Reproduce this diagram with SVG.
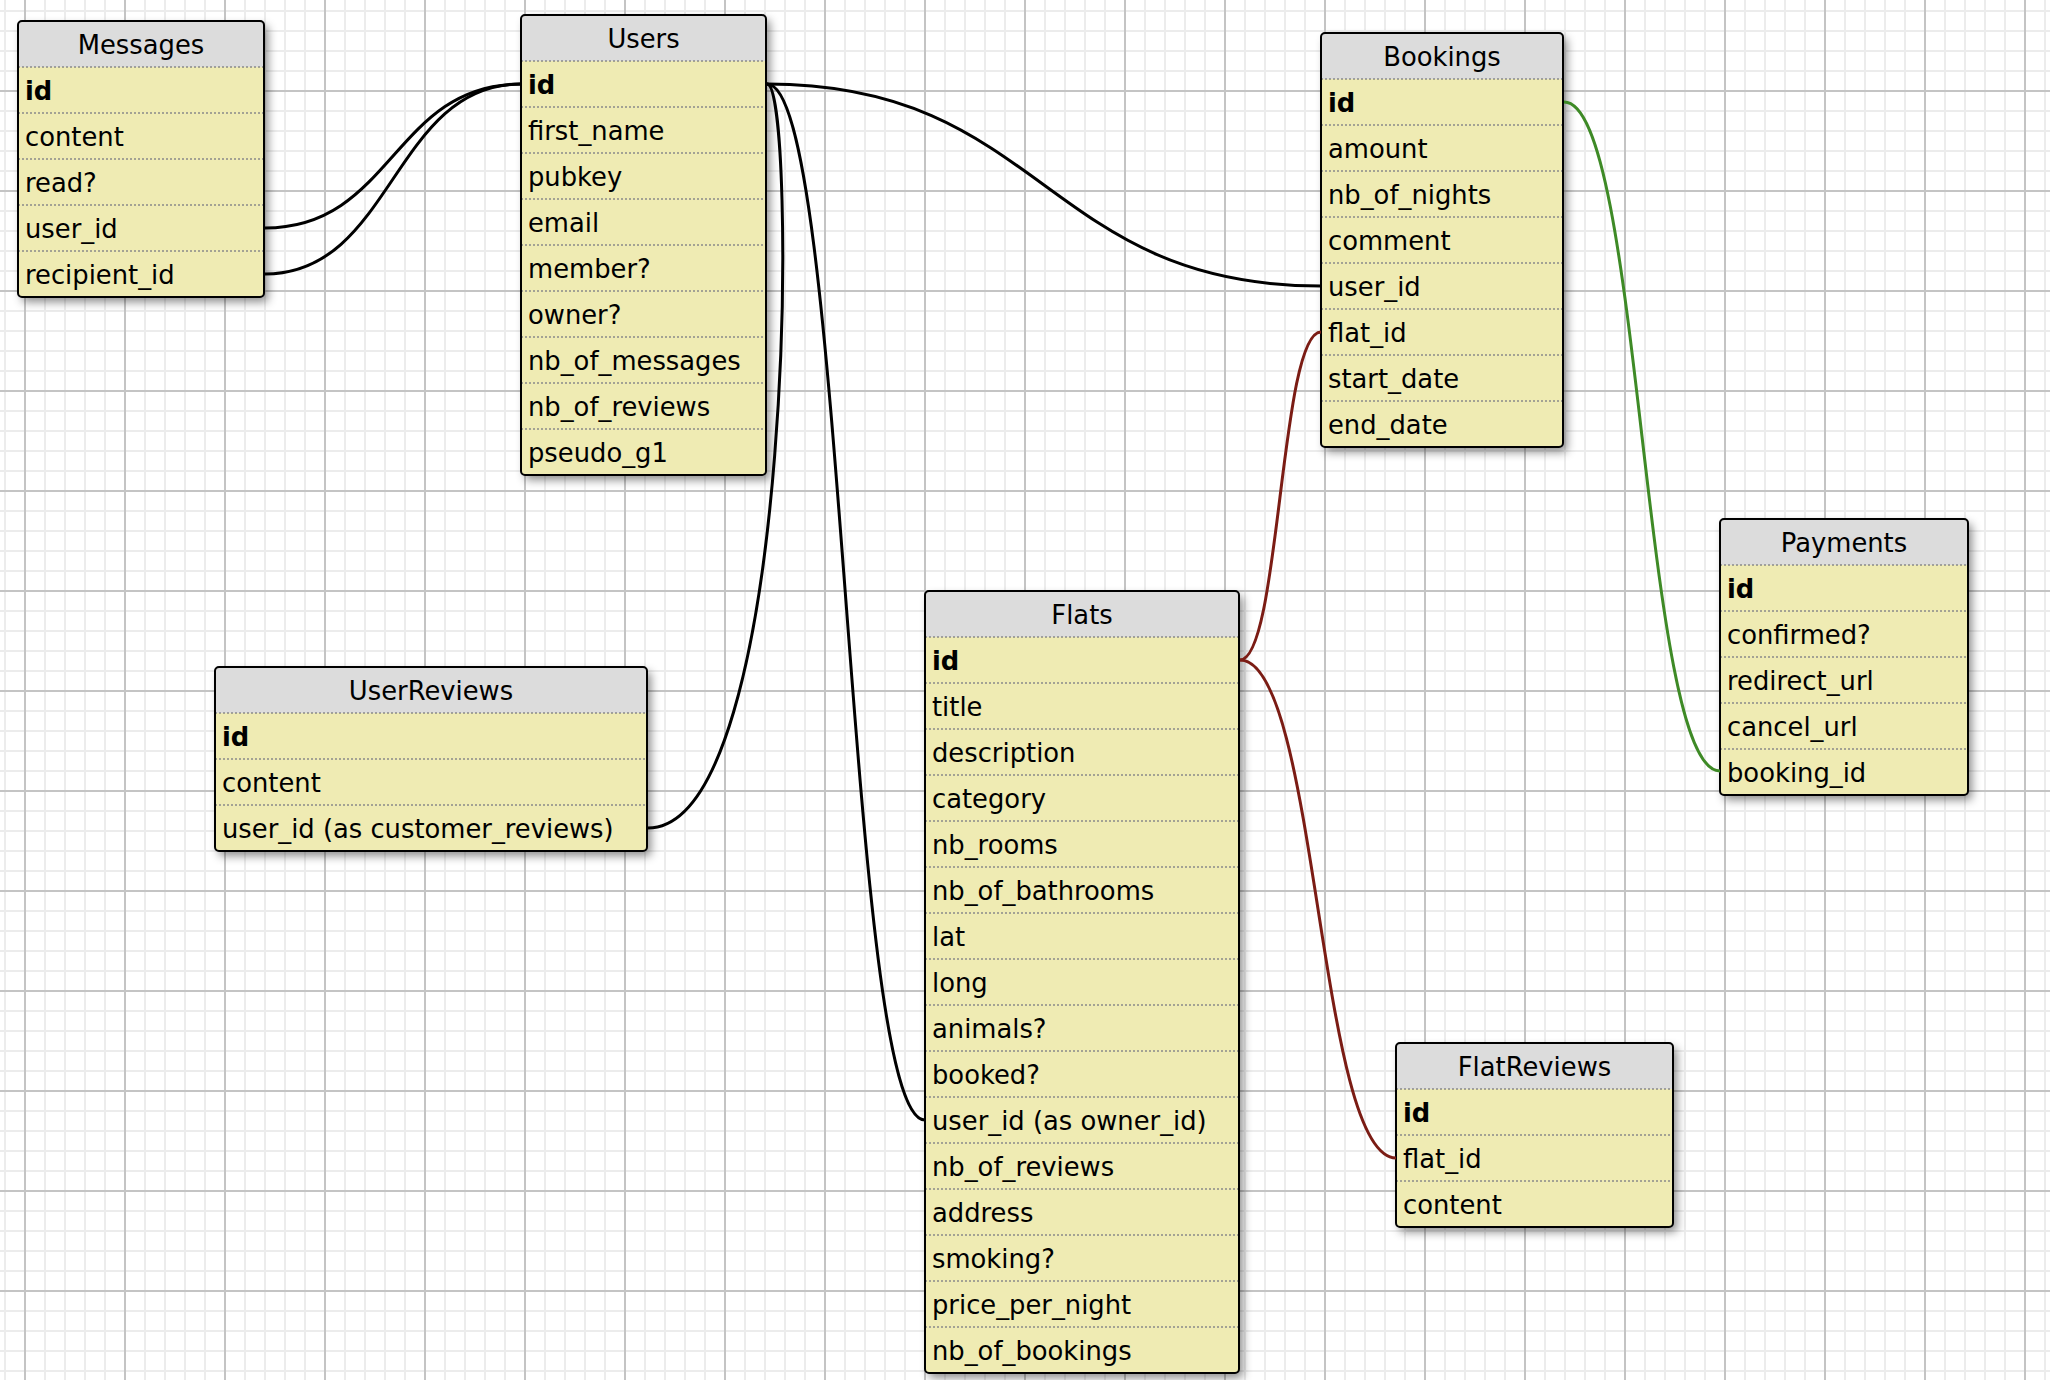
<svg xmlns="http://www.w3.org/2000/svg" width="2050" height="1380" viewBox="0 0 2050 1380">
<style>
.hd{fill:#dcdcdc}
.bd{fill:#efebb3}
.bx{fill:none;stroke:#000;stroke-width:2}
.sp{stroke:#8a8a8a;stroke-width:1.5;stroke-dasharray:2 2}
.t{font-family:"DejaVu Sans",Verdana,sans-serif;font-size:25.8px;fill:#000}
.c{text-anchor:middle}
.b{font-weight:bold}
.k{fill:none;stroke:#000;stroke-width:3}
.r{fill:none;stroke:#7b1c14;stroke-width:3}
.g{fill:none;stroke:#3e8a26;stroke-width:3}
</style>
<defs>
<pattern id="grid" x="24" y="-10" width="100" height="100" patternUnits="userSpaceOnUse">
<rect x="20" y="0" width="2" height="100" fill="#ececec"/>
<rect x="40" y="0" width="2" height="100" fill="#ececec"/>
<rect x="60" y="0" width="2" height="100" fill="#ececec"/>
<rect x="80" y="0" width="2" height="100" fill="#ececec"/>
<rect x="0" y="20" width="100" height="2" fill="#ececec"/>
<rect x="0" y="40" width="100" height="2" fill="#ececec"/>
<rect x="0" y="60" width="100" height="2" fill="#ececec"/>
<rect x="0" y="80" width="100" height="2" fill="#ececec"/>
<rect x="0" y="0" width="2" height="100" fill="#c4c4c4"/>
<rect x="0" y="0" width="100" height="2" fill="#c4c4c4"/>
</pattern>
<filter id="sh" x="-10%" y="-10%" width="130%" height="130%">
<feDropShadow dx="4" dy="5" stdDeviation="5" flood-color="#000" flood-opacity="0.45"/>
</filter>
</defs>
<rect width="2050" height="1380" fill="#fff"/>
<rect width="2050" height="1380" fill="url(#grid)"/>

<g id="messages" transform="translate(18,21)">
<rect class="bd" width="246" height="276" rx="4" filter="url(#sh)"/>
<path class="hd" d="M0,46V4a4,4 0 0 1 4,-4H242a4,4 0 0 1 4,4V46Z"/>
<g class="sp"><line x1="0" y1="46" x2="246" y2="46"/><line x1="0" y1="92" x2="246" y2="92"/><line x1="0" y1="138" x2="246" y2="138"/><line x1="0" y1="184" x2="246" y2="184"/><line x1="0" y1="230" x2="246" y2="230"/></g>
<text class="t c" x="123" y="33">Messages</text>
<text class="t b" x="7" y="79">id</text>
<text class="t" x="7" y="125">content</text>
<text class="t" x="7" y="171">read?</text>
<text class="t" x="7" y="217">user_id</text>
<text class="t" x="7" y="263">recipient_id</text>
<rect class="bx" width="246" height="276" rx="4"/>
</g>

<g id="users" transform="translate(521,15)">
<rect class="bd" width="245" height="460" rx="4" filter="url(#sh)"/>
<path class="hd" d="M0,46V4a4,4 0 0 1 4,-4H241a4,4 0 0 1 4,4V46Z"/>
<g class="sp"><line x1="0" y1="46" x2="245" y2="46"/><line x1="0" y1="92" x2="245" y2="92"/><line x1="0" y1="138" x2="245" y2="138"/><line x1="0" y1="184" x2="245" y2="184"/><line x1="0" y1="230" x2="245" y2="230"/><line x1="0" y1="276" x2="245" y2="276"/><line x1="0" y1="322" x2="245" y2="322"/><line x1="0" y1="368" x2="245" y2="368"/><line x1="0" y1="414" x2="245" y2="414"/></g>
<text class="t c" x="122.5" y="33">Users</text>
<text class="t b" x="7" y="79">id</text>
<text class="t" x="7" y="125">first_name</text>
<text class="t" x="7" y="171">pubkey</text>
<text class="t" x="7" y="217">email</text>
<text class="t" x="7" y="263">member?</text>
<text class="t" x="7" y="309">owner?</text>
<text class="t" x="7" y="355">nb_of_messages</text>
<text class="t" x="7" y="401">nb_of_reviews</text>
<text class="t" x="7" y="447">pseudo_g1</text>
<rect class="bx" width="245" height="460" rx="4"/>
</g>

<g id="bookings" transform="translate(1321,33)">
<rect class="bd" width="242" height="414" rx="4" filter="url(#sh)"/>
<path class="hd" d="M0,46V4a4,4 0 0 1 4,-4H238a4,4 0 0 1 4,4V46Z"/>
<g class="sp"><line x1="0" y1="46" x2="242" y2="46"/><line x1="0" y1="92" x2="242" y2="92"/><line x1="0" y1="138" x2="242" y2="138"/><line x1="0" y1="184" x2="242" y2="184"/><line x1="0" y1="230" x2="242" y2="230"/><line x1="0" y1="276" x2="242" y2="276"/><line x1="0" y1="322" x2="242" y2="322"/><line x1="0" y1="368" x2="242" y2="368"/></g>
<text class="t c" x="121" y="33">Bookings</text>
<text class="t b" x="7" y="79">id</text>
<text class="t" x="7" y="125">amount</text>
<text class="t" x="7" y="171">nb_of_nights</text>
<text class="t" x="7" y="217">comment</text>
<text class="t" x="7" y="263">user_id</text>
<text class="t" x="7" y="309">flat_id</text>
<text class="t" x="7" y="355">start_date</text>
<text class="t" x="7" y="401">end_date</text>
<rect class="bx" width="242" height="414" rx="4"/>
</g>

<g id="payments" transform="translate(1720,519)">
<rect class="bd" width="248" height="276" rx="4" filter="url(#sh)"/>
<path class="hd" d="M0,46V4a4,4 0 0 1 4,-4H244a4,4 0 0 1 4,4V46Z"/>
<g class="sp"><line x1="0" y1="46" x2="248" y2="46"/><line x1="0" y1="92" x2="248" y2="92"/><line x1="0" y1="138" x2="248" y2="138"/><line x1="0" y1="184" x2="248" y2="184"/><line x1="0" y1="230" x2="248" y2="230"/></g>
<text class="t c" x="124" y="33">Payments</text>
<text class="t b" x="7" y="79">id</text>
<text class="t" x="7" y="125">confirmed?</text>
<text class="t" x="7" y="171">redirect_url</text>
<text class="t" x="7" y="217">cancel_url</text>
<text class="t" x="7" y="263">booking_id</text>
<rect class="bx" width="248" height="276" rx="4"/>
</g>

<g id="flats" transform="translate(925,591)">
<rect class="bd" width="314" height="782" rx="4" filter="url(#sh)"/>
<path class="hd" d="M0,46V4a4,4 0 0 1 4,-4H310a4,4 0 0 1 4,4V46Z"/>
<g class="sp"><line x1="0" y1="46" x2="314" y2="46"/><line x1="0" y1="92" x2="314" y2="92"/><line x1="0" y1="138" x2="314" y2="138"/><line x1="0" y1="184" x2="314" y2="184"/><line x1="0" y1="230" x2="314" y2="230"/><line x1="0" y1="276" x2="314" y2="276"/><line x1="0" y1="322" x2="314" y2="322"/><line x1="0" y1="368" x2="314" y2="368"/><line x1="0" y1="414" x2="314" y2="414"/><line x1="0" y1="460" x2="314" y2="460"/><line x1="0" y1="506" x2="314" y2="506"/><line x1="0" y1="552" x2="314" y2="552"/><line x1="0" y1="598" x2="314" y2="598"/><line x1="0" y1="644" x2="314" y2="644"/><line x1="0" y1="690" x2="314" y2="690"/><line x1="0" y1="736" x2="314" y2="736"/></g>
<text class="t c" x="157" y="33">Flats</text>
<text class="t b" x="7" y="79">id</text>
<text class="t" x="7" y="125">title</text>
<text class="t" x="7" y="171">description</text>
<text class="t" x="7" y="217">category</text>
<text class="t" x="7" y="263">nb_rooms</text>
<text class="t" x="7" y="309">nb_of_bathrooms</text>
<text class="t" x="7" y="355">lat</text>
<text class="t" x="7" y="401">long</text>
<text class="t" x="7" y="447">animals?</text>
<text class="t" x="7" y="493">booked?</text>
<text class="t" x="7" y="539">user_id (as owner_id)</text>
<text class="t" x="7" y="585">nb_of_reviews</text>
<text class="t" x="7" y="631">address</text>
<text class="t" x="7" y="677">smoking?</text>
<text class="t" x="7" y="723">price_per_night</text>
<text class="t" x="7" y="769">nb_of_bookings</text>
<rect class="bx" width="314" height="782" rx="4"/>
</g>

<g id="flatreviews" transform="translate(1396,1043)">
<rect class="bd" width="277" height="184" rx="4" filter="url(#sh)"/>
<path class="hd" d="M0,46V4a4,4 0 0 1 4,-4H273a4,4 0 0 1 4,4V46Z"/>
<g class="sp"><line x1="0" y1="46" x2="277" y2="46"/><line x1="0" y1="92" x2="277" y2="92"/><line x1="0" y1="138" x2="277" y2="138"/></g>
<text class="t c" x="138.5" y="33">FlatReviews</text>
<text class="t b" x="7" y="79">id</text>
<text class="t" x="7" y="125">flat_id</text>
<text class="t" x="7" y="171">content</text>
<rect class="bx" width="277" height="184" rx="4"/>
</g>

<g id="userreviews" transform="translate(215,667)">
<rect class="bd" width="432" height="184" rx="4" filter="url(#sh)"/>
<path class="hd" d="M0,46V4a4,4 0 0 1 4,-4H428a4,4 0 0 1 4,4V46Z"/>
<g class="sp"><line x1="0" y1="46" x2="432" y2="46"/><line x1="0" y1="92" x2="432" y2="92"/><line x1="0" y1="138" x2="432" y2="138"/></g>
<text class="t c" x="216" y="33">UserReviews</text>
<text class="t b" x="7" y="79">id</text>
<text class="t" x="7" y="125">content</text>
<text class="t" x="7" y="171">user_id (as customer_reviews)</text>
<rect class="bx" width="432" height="184" rx="4"/>
</g>

<g id="connectors">
<path class="k" d="M265,228C393,228 393,84 521,84"/>
<path class="k" d="M265,274C393,274 393,84 521,84"/>
<path class="k" d="M767,84C1044,84 1044,286 1321,286"/>
<path class="k" d="M767,84C846,84 846,1120 925,1120"/>
<path class="k" d="M767,84C797,84 797,828 648,828"/>
<path class="r" d="M1240,660C1280,660 1280,332 1321,332"/>
<path class="r" d="M1240,660C1318,660 1318,1158 1396,1158"/>
<path class="g" d="M1564,102C1642,102 1642,771 1720,771"/>
</g>
</svg>
